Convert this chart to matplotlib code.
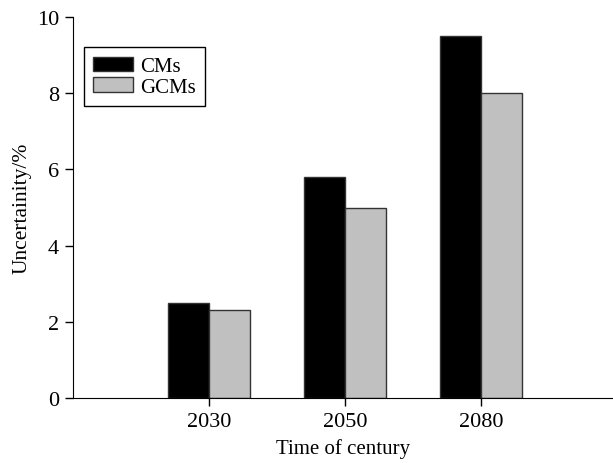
import numpy as np
import matplotlib
matplotlib.use('Agg')
import matplotlib.pyplot as plt

# data
years = ['2030', '2050', '2080']
cms = [2.5, 5.8, 9.5]
gcms = [2.3, 5.0, 8.0]

plt.rcParams['font.family'] = 'Liberation Serif'
plt.rcParams['font.size'] = 16

fig = plt.figure(figsize=(6.13, 4.64), dpi=100)
ax = fig.add_axes([0.119, 0.140, 0.881, 0.821])

x = np.arange(len(years))
w = 0.3
ax.bar(x - w / 2, cms, w, color='black', edgecolor='#333333', linewidth=1, label='CMs')
ax.bar(x + w / 2, gcms, w, color='#c0c0c0', edgecolor='#333333', linewidth=1, label='GCMs')

ax.set_xlim(-1, 2.97)
ax.set_ylim(0, 10)
ax.set_xticks(x)
ax.set_xticklabels(years)
ax.set_yticks(np.arange(0, 11, 2))
ax.spines['top'].set_visible(False)
ax.spines['right'].set_visible(False)
ax.tick_params(direction='out', length=6, width=1, pad=4)
ax.set_xlabel('Time of century', fontsize=15, labelpad=5)
ax.set_ylabel('Uncertainity/%', fontsize=15.5, labelpad=4)

leg = ax.legend(loc='upper left', bbox_to_anchor=(0.02, 0.921), fancybox=False,
                edgecolor='black', framealpha=1, handlelength=1.9, handleheight=0.7,
                borderpad=0.45, labelspacing=0.05, handletextpad=0.35, borderaxespad=0,
                fontsize=15)
leg.get_frame().set_linewidth(1)

plt.savefig('out.png', dpi=100)
